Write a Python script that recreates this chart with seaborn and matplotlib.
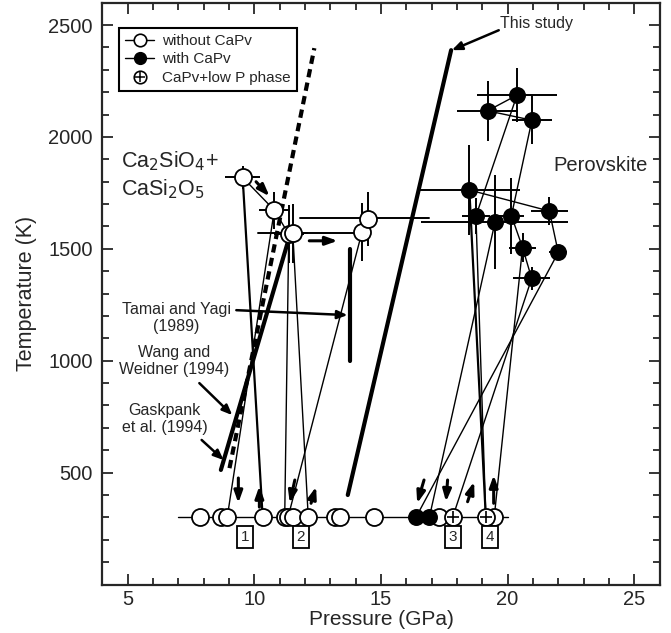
import matplotlib
matplotlib.use("Agg")
import matplotlib.pyplot as plt
from matplotlib.lines import Line2D
from matplotlib.legend_handler import HandlerTuple
from matplotlib.ticker import MultipleLocator
import pandas as pd
import seaborn as sns

sns.set_style("ticks")
plt.rcParams["font.family"] = ["Liberation Sans", "DejaVu Sans"]

# ---- high-temperature runs without CaPv (open symbols) ----
open_P = [9.54, 10.79, 11.36, 11.52, 14.25, 14.50]
open_T = [1819, 1673, 1565, 1569, 1575, 1632]
open_Perr = [0.69, 0.62, 0.60, 0.60, 0.0, 0.0]
open_Terr = [50, 82, 130, 130, 130, 120]

# long horizontal pressure bars of the two runs near 14 GPa: (P_low, P_high, T)
open_Pbars = [(10.13, 14.25, 1569), (11.80, 16.90, 1636)]

# ---- high-temperature runs with CaPv (filled symbols) ----
fill_P = [20.37, 19.21, 20.96, 18.49, 21.65, 18.75, 19.50, 20.15, 20.59, 22.00, 20.95]
fill_T = [2187, 2117, 2075, 1763, 1669, 1647, 1618, 1648, 1506, 1484, 1368]
fill_Perr = [1.58, 1.20, 0.80, 2.00, 0.72, 0.56, 2.90, 0.50, 0.53, 0.36, 0.73]
fill_Terr = [120, 134, 107, 200, 64, 82, 210, 170, 64, 35, 50]

# ---- quenched samples at room temperature ----
room_T = 300
q_open_P = [7.87, 8.67, 8.93, 10.33, 11.20, 11.33, 11.53, 12.13, 13.20, 13.40, 14.73, 17.30, 19.47]
q_fill_P = [16.38, 16.91]
q_cross_P = [17.83, 19.14]

# ---- experimental paths (P, T pairs joined by thin lines) ----
paths = [
    [(9.54, 1819), (10.79, 1673), (11.36, 1565)],
    [(10.79, 1673), (8.93, 300)],
    [(11.36, 1565), (11.20, 300)],
    [(11.52, 1569), (12.13, 300)],
    [(14.25, 1575), (11.33, 300)],
    [(19.21, 2117), (20.37, 2187), (18.75, 1647), (19.14, 300)],
    [(19.21, 2117), (20.96, 2075), (20.15, 1648), (20.59, 1506), (20.95, 1368), (17.83, 300)],
    [(18.49, 1763), (21.65, 1669), (22.00, 1484), (16.38, 300)],
    [(19.50, 1618), (16.91, 300)],
    [(20.59, 1506), (19.47, 300)],
]
# steeper, heavier quench paths
heavy_paths = [
    [(9.54, 1819), (10.33, 300)],
    [(18.49, 1763), (19.14, 300)],
]

# ---- phase boundaries ----
this_study_P = [13.69, 17.77]
this_study_T = [400, 2388]
gasparik_P = [9.02, 12.37]
gasparik_T = [520, 2397]
wang_P = [8.68, 11.40]
wang_T = [512, 1560]
tamai_P = [13.76, 13.76]
tamai_T = [1000, 1500]

# ---- small direction arrows: (P_start, T_start, P_end, T_end) ----
arrows = [
    (10.07, 1800, 10.60, 1735),
    (12.17, 1536, 13.29, 1536),
    (9.37, 476, 9.37, 364),
    (10.20, 346, 10.20, 440),
    (11.60, 467, 11.40, 364),
    (12.24, 363, 12.44, 437),
    (16.70, 467, 16.43, 363),
    (17.63, 467, 17.57, 370),
    (18.42, 370, 18.68, 459),
    (19.45, 363, 19.45, 489),
]

# ---- run numbers below the room-temperature line ----
run_labels = ["1", "2", "3", "4"]
run_label_P = [9.64, 11.83, 17.83, 19.30]
run_label_T = 212

fig = plt.figure(figsize=(6.71, 6.33), dpi=100)
ax = fig.add_axes([0.1525, 0.0766, 0.8305, 0.9191])

# room temperature line
ax.plot([7.0, 20.0], [room_T, room_T], color="black", lw=1.0, zorder=2)

for path in paths:
    pp, tt = zip(*path)
    ax.plot(pp, tt, color="black", lw=1.0, zorder=2)
for path in heavy_paths:
    pp, tt = zip(*path)
    ax.plot(pp, tt, color="black", lw=1.6, zorder=2)

# phase boundaries
ax.plot(this_study_P, this_study_T, color="black", lw=3.0, zorder=3)
ax.plot(gasparik_P, gasparik_T, color="black", lw=3.0, ls=(0, (2.0, 1.3)), zorder=3)
ax.plot(wang_P, wang_T, color="black", lw=3.0, zorder=3)
ax.plot(tamai_P, tamai_T, color="black", lw=3.0, zorder=3)

# error bars
ax.errorbar(open_P, open_T, xerr=open_Perr, yerr=open_Terr, fmt="none",
            ecolor="black", elinewidth=1.4, capsize=0, zorder=3)
for p0, p1, t in open_Pbars:
    ax.plot([p0, p1], [t, t], color="black", lw=1.4, zorder=3)
ax.errorbar(fill_P, fill_T, xerr=fill_Perr, yerr=fill_Terr, fmt="none",
            ecolor="black", elinewidth=1.4, capsize=0, zorder=3)

df_open = pd.DataFrame({"P": open_P + q_open_P, "T": open_T + [room_T] * len(q_open_P)})
df_fill = pd.DataFrame({"P": fill_P + q_fill_P, "T": fill_T + [room_T] * len(q_fill_P)})
df_cross = pd.DataFrame({"P": q_cross_P, "T": [room_T] * len(q_cross_P)})

sns.scatterplot(data=df_open, x="P", y="T", ax=ax, s=150, facecolor="white",
                edgecolor="black", linewidth=1.3, zorder=5, legend=False)
sns.scatterplot(data=df_fill, x="P", y="T", ax=ax, s=125, color="black",
                edgecolor="black", linewidth=1.0, zorder=5, legend=False)
sns.scatterplot(data=df_cross, x="P", y="T", ax=ax, s=150, facecolor="white",
                edgecolor="black", linewidth=1.3, zorder=6, legend=False)
sns.scatterplot(data=df_cross, x="P", y="T", ax=ax, s=70, marker="+", color="black",
                linewidth=1.2, zorder=7, legend=False)

arrow_style = "-|>,head_length=0.7,head_width=0.25"
for p0, t0, p1, t1 in arrows:
    ax.annotate("", xy=(p1, t1), xytext=(p0, t0),
                arrowprops=dict(arrowstyle=arrow_style, color="black", lw=2.2,
                                shrinkA=0, shrinkB=0), zorder=8)

for lab, p in zip(run_labels, run_label_P):
    ax.text(p, run_label_T, lab, ha="center", va="center", fontsize=11,
            bbox=dict(boxstyle="square,pad=0.25", facecolor="white",
                      edgecolor="black", lw=1.3), zorder=8)

# field labels
ax.text(4.72, 1830, "Ca$_2$SiO$_4$+\nCaSi$_2$O$_5$", fontsize=15.5, ha="left",
        va="center", linespacing=1.25)
ax.text(23.65, 1874, "Perovskite", fontsize=14.5, ha="center", va="center")

# literature boundaries and their labels
label_kw = dict(fontsize=11.5, ha="center", va="center", linespacing=1.15)
pointer = dict(arrowstyle="-|>,head_length=0.6,head_width=0.25", color="black",
               lw=1.8, shrinkA=0, shrinkB=0)
ax.text(6.92, 1190, "Tamai and Yagi\n(1989)", **label_kw)
ax.annotate("", xy=(13.68, 1204), xytext=(9.29, 1226), arrowprops=pointer)
ax.text(6.84, 1000, "Wang and\nWeidner (1994)", **label_kw)
ax.annotate("", xy=(9.13, 757), xytext=(7.83, 900), arrowprops=pointer)
ax.text(6.45, 738, "Gaskpank\net al. (1994)", **label_kw)
ax.annotate("", xy=(8.79, 556), xytext=(7.92, 646), arrowprops=pointer)
ax.text(19.7, 2505, "This study", fontsize=11.5, ha="left", va="center")
ax.annotate("", xy=(17.80, 2388), xytext=(19.65, 2477), arrowprops=pointer)

# legend
h_open = Line2D([], [], color="black", lw=1.0, marker="o", markersize=9,
                markerfacecolor="white", markeredgecolor="black", markeredgewidth=1.2)
h_fill = Line2D([], [], color="black", lw=1.0, marker="o", markersize=8.5,
                markerfacecolor="black", markeredgecolor="black")
h_c1 = Line2D([], [], ls="none", marker="o", markersize=9, markerfacecolor="white",
              markeredgecolor="black", markeredgewidth=1.2)
h_c2 = Line2D([], [], ls="none", marker="+", markersize=7, color="black",
              markeredgewidth=1.1)
leg = ax.legend([h_open, h_fill, (h_c1, h_c2)],
                ["without CaPv", "with CaPv", "CaPv+low P phase"],
                handler_map={tuple: HandlerTuple(ndivide=1)},
                loc="upper left", bbox_to_anchor=(0.03, 0.957), fontsize=11,
                frameon=True, fancybox=False, framealpha=1, edgecolor="black",
                handlelength=1.9, handletextpad=0.5, borderpad=0.4,
                labelspacing=0.3, borderaxespad=0)
leg.get_frame().set_linewidth(1.5)

ax.set_xlim(4, 26)
ax.set_ylim(0, 2600)
ax.xaxis.set_major_locator(MultipleLocator(5))
ax.xaxis.set_minor_locator(MultipleLocator(1))
ax.yaxis.set_minor_locator(MultipleLocator(100))
ax.set_yticks([500, 1000, 1500, 2000, 2500])
ax.tick_params(which="both", direction="in", top=True, right=True, width=1.3,
               labelsize=14.5)
ax.tick_params(which="major", length=8)
ax.tick_params(axis="y", which="major", pad=7)
ax.tick_params(axis="x", which="major", pad=4)
ax.tick_params(which="minor", length=5)
for sp in ax.spines.values():
    sp.set_linewidth(1.6)
ax.set_xlabel("Pressure (GPa)", fontsize=15, labelpad=1)
ax.set_ylabel("Temperature (K)", fontsize=15.5, labelpad=8)

fig.savefig("out.png", dpi=100)
